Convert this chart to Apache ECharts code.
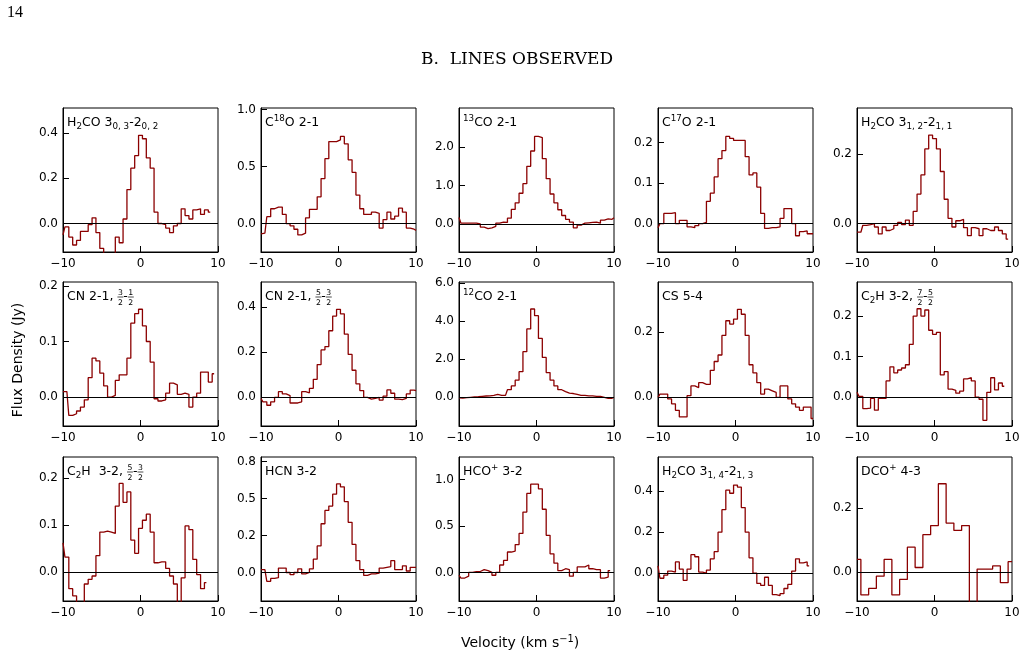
<!DOCTYPE html>
<html>
<head>
<meta charset="utf-8">
<script src="https://cdn.jsdelivr.net/npm/echarts@6/dist/echarts.min.js"></script>
<style>
html, body { margin: 0; padding: 0; background: #fff; }
#chart { width: 1027px; height: 658px; }
</style>
</head>
<body>
<div id="chart"></div>
<script>
// spectra, flux density in Jy, one value per channel starting at v = -10 km/s
const H2CO_303 = [-0.05,-0.015,-0.06,-0.095,-0.075,-0.035,-0.035,-0.005,0.025,-0.04,
  -0.11,-0.15,-0.15,-0.15,-0.06,-0.085,0.02,0.15,0.245,0.30,
  0.39,0.375,0.29,0.245,0.05,0.0,-0.005,-0.02,-0.04,-0.01,
  0.0,0.065,0.035,0.02,0.06,0.065,0.04,0.06,0.05];
const C18O = [-0.09,-0.085,0.06,0.13,0.145,0.145,0.08,0.0,-0.02,-0.05,
  -0.1,-0.085,0.05,0.125,0.125,0.235,0.395,0.57,0.72,0.72,
  0.735,0.765,0.7,0.56,0.45,0.25,0.13,0.08,0.08,0.1,
  0.09,-0.04,0.035,0.1,0.04,0.065,0.135,0.1,-0.04,-0.05,-0.06];
const CO13 = [0.17,0.02,0.02,0.02,0.02,0.0,-0.08,-0.12,-0.1,-0.06,
  0.02,0.05,0.04,0.15,0.38,0.55,0.8,1.05,1.5,1.9,
  2.28,2.25,1.7,1.18,0.78,0.55,0.37,0.22,0.12,0.05,
  -0.1,-0.03,0.02,0.03,0.04,0.05,0.02,0.1,0.13,0.12,0.16];
const C17O = [-0.01,0.0,0.025,0.025,0.027,0.0,0.008,0.008,-0.008,-0.01,
  -0.005,0.0,0.003,0.055,0.075,0.115,0.16,0.18,0.215,0.21,
  0.205,0.205,0.205,0.165,0.12,0.125,0.09,0.025,-0.012,-0.01,
  -0.01,-0.008,0.013,0.037,0.037,0.0,-0.03,-0.02,-0.018,-0.025,-0.025];
const H2CO_312 = [-0.025,-0.025,-0.005,-0.003,0.0,-0.01,-0.03,-0.01,-0.02,-0.015,
  -0.005,0.003,-0.003,0.01,-0.005,0.035,0.085,0.14,0.215,0.255,
  0.245,0.215,0.15,0.07,0.015,-0.01,0.008,0.012,-0.012,-0.035,
  -0.012,-0.015,-0.035,-0.015,-0.02,-0.02,-0.01,-0.02,-0.03,-0.045];
const CN_32 = [0.01,0.01,-0.033,-0.03,-0.025,-0.018,-0.005,0.035,0.07,0.065,
  0.043,0.02,0.0,0.003,0.03,0.04,0.04,0.07,0.133,0.15,
  0.158,0.128,0.1,0.063,-0.003,-0.007,-0.005,0.007,0.025,0.022,
  0.005,0.007,0.005,-0.018,0.0,0.007,0.045,0.045,0.027,0.042];
const CN_52 = [-0.005,-0.02,-0.035,-0.02,0.0,0.025,0.015,0.008,-0.025,-0.025,
  -0.02,0.025,0.02,0.04,0.08,0.145,0.21,0.225,0.295,0.36,
  0.39,0.37,0.28,0.19,0.12,0.06,0.03,0.0,-0.008,-0.005,
  0.0,-0.012,0.005,0.033,0.018,-0.008,-0.01,-0.005,0.015,0.032,0.03];
const CO12 = [-0.03,-0.04,-0.02,0.0,0.02,0.03,0.05,0.07,0.08,0.1,
  0.15,0.1,0.1,0.4,0.6,0.9,1.35,2.4,3.6,4.65,
  4.3,3.1,2.1,1.3,0.9,0.6,0.4,0.3,0.22,0.2,
  0.15,0.1,0.1,0.08,0.08,0.05,0.05,0.0,-0.05,-0.05,0.0];
const CS54 = [0.0,0.01,0.01,-0.005,-0.02,-0.04,-0.06,-0.06,0.005,0.035,
  0.03,0.045,0.04,0.04,0.083,0.11,0.13,0.19,0.235,0.225,
  0.24,0.27,0.255,0.19,0.1,0.075,0.045,0.01,0.025,0.02,
  0.015,0.0,0.035,0.035,-0.005,-0.02,-0.03,-0.04,-0.03,-0.03,-0.065];
const C2H_72 = [0.012,0.002,-0.028,-0.027,-0.003,-0.032,-0.003,-0.003,0.04,0.075,
  0.06,0.067,0.072,0.08,0.13,0.2,0.218,0.2,0.215,0.165,
  0.155,0.16,0.055,0.063,0.02,0.017,0.01,0.015,0.045,0.048,
  0.04,0.0,-0.005,-0.057,0.012,0.048,0.018,0.035,0.027];
const C2H_52 = [0.062,0.032,-0.035,-0.05,-0.07,-0.07,-0.025,-0.015,-0.008,0.035,
  0.085,0.087,0.085,0.082,0.14,0.188,0.148,0.17,0.068,0.04,
  0.093,0.11,0.123,0.085,0.02,0.022,0.022,0.008,-0.008,-0.025,
  -0.07,-0.012,0.098,0.09,0.027,-0.005,-0.035,-0.022];
const HCN32 = [0.02,0.02,-0.06,-0.04,-0.035,0.03,0.03,0.0,-0.015,0.0,
  0.025,-0.01,0.0,0.025,0.09,0.18,0.33,0.42,0.45,0.53,
  0.6,0.58,0.48,0.34,0.19,0.08,0.02,-0.02,-0.01,-0.01,
  -0.005,0.03,0.035,0.04,0.08,0.02,0.02,0.045,0.01,0.035,0.035];
const HCOP32 = [-0.03,-0.06,-0.04,0.0,0.01,0.01,0.03,0.02,0.0,-0.03,
  0.0,0.08,0.13,0.22,0.23,0.3,0.42,0.65,0.85,0.95,
  0.95,0.9,0.68,0.4,0.2,0.1,0.02,0.04,0.03,-0.04,
  0.0,0.06,0.06,0.08,0.04,0.03,0.03,-0.06,-0.05,0.02];
const H2CO_314 = [0.035,-0.025,-0.01,0.01,0.005,0.055,0.02,-0.035,0.02,0.09,
  0.08,0.005,0.0,0.015,0.07,0.105,0.2,0.31,0.405,0.39,
  0.43,0.42,0.32,0.2,0.075,0.0,-0.05,-0.06,-0.02,-0.06,
  -0.105,-0.11,-0.1,-0.075,-0.055,0.01,0.07,0.05,0.055,0.035];
const DCOP43 = [0.04,-0.07,-0.05,-0.012,0.04,-0.07,-0.022,0.078,0.015,0.117,
  0.145,0.275,0.153,0.13,0.145,-0.1,0.01,0.01,0.02,-0.032,0.033];

// tick values
const X_TICKS = [-10, 0, 10];
const T_024 = [0, 0.2, 0.4];
const T_0510 = [0, 0.5, 1.0];
const T_012 = [0, 1, 2];
const T_0102 = [0, 0.1, 0.2];
const T_02 = [0, 0.2];
const T_0246 = [0, 2, 4, 6];
const T_HCN = [0, 0.25, 0.5, 0.75];
const T_HCN_LABELS = ['0.0', '0.2', '0.5', '0.8'];

// layout
const COL_LEFT = [63, 261, 459, 658, 857];
const ROW_TOP = [108, 282, 457];
const PANEL_W = 155, PANEL_H = 144;
const TICK_PX = 6;
const RED = '#8b0000';
const FONT = '"DejaVu Sans"';

const panels = [
  {t: 'H_{2}CO 3_{0, 3}-2_{0, 2}', f: H2CO_303, dv: 0.5, yr: [-0.126, 0.511], yt: T_024},
  {t: 'C^{18}O 2-1', f: C18O, dv: 0.5, yr: [-0.25, 1.015], yt: T_0510},
  {t: '^{13}CO 2-1', f: CO13, dv: 0.5, yr: [-0.73, 3.02], yt: T_012},
  {t: 'C^{17}O 2-1', f: C17O, dv: 0.5, yr: [-0.070, 0.285], yt: T_0102},
  {t: 'H_{2}CO 3_{1, 2}-2_{1, 1}', f: H2CO_312, dv: 0.5, yr: [-0.082, 0.333], yt: T_02},
  {t: 'CN 2-1, \\frac{3}{2}-\\frac{1}{2}', f: CN_32, dv: 0.5, yr: [-0.052, 0.207], yt: T_0102},
  {t: 'CN 2-1, \\frac{5}{2}-\\frac{3}{2}', f: CN_52, dv: 0.5, yr: [-0.127, 0.511], yt: T_024},
  {t: '^{12}CO 2-1', f: CO12, dv: 0.5, yr: [-1.51, 6.07], yt: T_0246},
  {t: 'CS 5-4', f: CS54, dv: 0.5, yr: [-0.088, 0.354], yt: T_02},
  {t: 'C_{2}H 3-2, \\frac{7}{2}-\\frac{5}{2}', f: C2H_72, dv: 0.5, yr: [-0.071, 0.284], yt: T_0102},
  {t: 'C_{2}H  3-2, \\frac{5}{2}-\\frac{3}{2}', f: C2H_52, dv: 0.5, yr: [-0.061, 0.244], yt: T_0102},
  {t: 'HCN 3-2', f: HCN32, dv: 0.5, yr: [-0.193, 0.782], yt: T_HCN, yl: T_HCN_LABELS},
  {t: 'HCO^{+} 3-2', f: HCOP32, dv: 0.5, yr: [-0.307, 1.242], yt: T_0510},
  {t: 'H_{2}CO 3_{1, 4}-2_{1, 3}', f: H2CO_314, dv: 0.5, yr: [-0.136, 0.567], yt: T_024},
  {t: 'DCO^{+} 4-3', f: DCOP43, dv: 1.0, yr: [-0.089, 0.358], yt: T_02}
];

const measureCtx = document.createElement('canvas').getContext('2d');
function textWidth(t, size) {
  measureCtx.font = size + 'px ' + FONT;
  return measureCtx.measureText(t).width;
}

function txt(t, x, base, size, out) {
  out.push({
    type: 'text', silent: true, z: 100,
    style: {
      text: t, x: x, y: base - 0.33 * size, font: size + 'px ' + FONT, fill: '#000',
      align: 'left', verticalAlign: 'middle', textAlign: 'left', textVerticalAlign: 'middle'
    }
  });
  return textWidth(t, size);
}

// tiny mathtext-like layout: _{sub}, ^{sup}, \frac{a}{b}
function mathText(str, x, base, size, out) {
  const small = size * 0.7, frac = size * 0.62;
  const parts = str.split(/(_\{[^}]*\}|\^\{[^}]*\}|\\frac\{[^}]*\}\{[^}]*\})/).filter(s => s);
  let cx = x;
  parts.forEach(p => {
    let m;
    if ((m = p.match(/^_\{(.*)\}$/))) {
      cx += txt(m[1], cx, base + size * 0.22, small, out);
    } else if ((m = p.match(/^\^\{(.*)\}$/))) {
      cx += txt(m[1], cx, base - size * 0.4, small, out);
    } else if ((m = p.match(/^\\frac\{(.*)\}\{(.*)\}$/))) {
      const wn = textWidth(m[1], frac), wd = textWidth(m[2], frac);
      const w = Math.max(wn, wd) + 1;
      txt(m[1], cx + (w - wn) / 2, base - size * 0.42, frac, out);
      txt(m[2], cx + (w - wd) / 2, base + size * 0.36, frac, out);
      out.push({type: 'line', silent: true, z: 100,
        shape: {x1: cx, y1: base - size * 0.32, x2: cx + w, y2: base - size * 0.32},
        style: {stroke: '#000', lineWidth: 0.7}});
      cx += w;
    } else {
      cx += txt(p, cx, base, size, out);
    }
  });
  return cx - x;
}

const grids = [], xAxes = [], yAxes = [], series = [], graphics = [];

panels.forEach((p, i) => {
  const r = Math.floor(i / 5), c = i % 5;
  const left = COL_LEFT[c], top = ROW_TOP[r];
  const [y0, y1] = p.yr;
  grids.push({left: left, top: top, width: PANEL_W, height: PANEL_H,
    show: true, borderColor: '#000', borderWidth: 1});
  xAxes.push({
    type: 'value', gridIndex: i, min: -10, max: 10, interval: 10,
    axisLine: {show: true, onZero: false, lineStyle: {color: '#000', width: 1}},
    axisTick: {show: true, inside: true, length: TICK_PX, lineStyle: {color: '#000', width: 1}},
    axisLabel: {show: true, margin: 6, fontSize: 12, fontFamily: FONT, color: '#000',
      showMinLabel: true, showMaxLabel: true,
      formatter: v => v < 0 ? '\u2212' + Math.abs(v) : String(v)},
    splitLine: {show: false}
  });
  yAxes.push({
    type: 'value', gridIndex: i, min: y0, max: y1,
    axisLine: {show: true, onZero: false, lineStyle: {color: '#000', width: 1}},
    axisTick: {show: true, inside: true, length: TICK_PX, customValues: p.yt,
      lineStyle: {color: '#000', width: 1}},
    axisLabel: {show: true, margin: 5, fontSize: 12, fontFamily: FONT, color: '#000',
      customValues: p.yt,
      formatter: v => p.yl ? p.yl[p.yt.indexOf(v)] : v.toFixed(1)},
    splitLine: {show: false}
  });
  // inward tick marks as short segments, plus the zero line
  const dy = (y1 - y0) * TICK_PX / PANEL_H, dx = 20 * TICK_PX / PANEL_W;
  const tickSegs = X_TICKS.map(v => [{coord: [v, y0]}, {coord: [v, y0 + dy]}])
    .concat(p.yt.map(t => [{coord: [-10, t]}, {coord: [-10 + dx, t]}]));
  series.push({
    type: 'line', xAxisIndex: i, yAxisIndex: i, step: 'middle',
    showSymbol: false, symbol: 'none', clip: true, animation: false, silent: true,
    lineStyle: {color: RED, width: 1.3},
    data: p.f.map((f, k) => [-10 + k * p.dv, f]),
    markLine: {
      silent: true, symbol: 'none', animation: false,
      label: {show: false},
      lineStyle: {color: '#000', width: 1, type: 'solid'},
      data: [{yAxis: 0}].concat(tickSegs)
    }
  });
  mathText(p.t, left + 4, top + 19, 12.5, graphics);
});

// page furniture
graphics.push({type: 'text', silent: true,
  style: {text: '14', x: 7, y: 13, font: '16px "Liberation Serif"', fill: '#000',
    align: 'left', verticalAlign: 'middle', textAlign: 'left', textVerticalAlign: 'middle'}});
graphics.push({type: 'text', silent: true,
  style: {text: 'B.  LINES OBSERVED', x: 517, y: 60, font: '17px "DejaVu Serif"', fill: '#000',
    align: 'center', verticalAlign: 'middle', textAlign: 'center', textVerticalAlign: 'middle'}});
graphics.push({type: 'text', silent: true, rotation: Math.PI / 2, x: 18, y: 360,
  style: {text: 'Flux Density (Jy)', x: 0, y: 0, font: '14px ' + FONT, fill: '#000',
    align: 'center', verticalAlign: 'middle', textAlign: 'center', textVerticalAlign: 'middle'}});
const velLabel = 'Velocity (km s^{\u22121})';
const velW = mathText(velLabel, 0, 0, 14, []);
mathText(velLabel, 520 - velW / 2, 648, 14, graphics);

const chart = echarts.init(document.getElementById('chart'), null, {renderer: 'canvas'});
chart.setOption({
  animation: false,
  grid: grids,
  xAxis: xAxes,
  yAxis: yAxes,
  series: series,
  graphic: {elements: graphics}
});
</script>
</body>
</html>
